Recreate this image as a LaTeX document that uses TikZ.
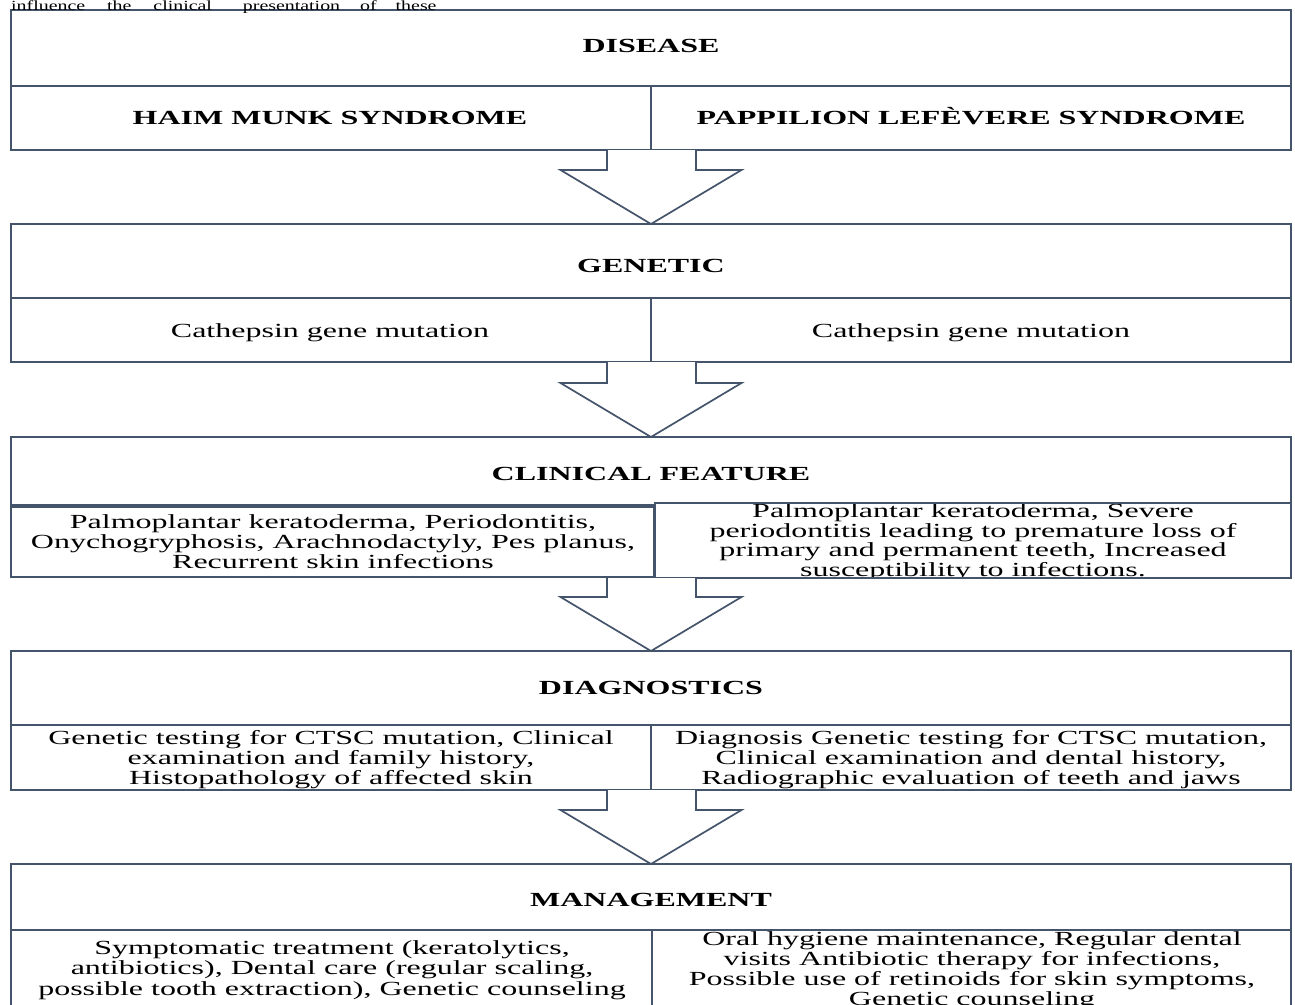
\documentclass[tikz,border=0pt]{standalone}
\usepackage{fontspec}
\setmainfont{Liberation Serif}
\newfontfamily\tnr[FakeStretch=1.6]{Liberation Serif}
\newfontfamily\topfont[FakeStretch=1.42]{Liberation Serif}
\usetikzlibrary{calc}
\definecolor{linec}{RGB}{68,84,106}
\tikzset{
  frame/.style={draw=linec, line width=1.7pt},
  hdr/.style={font={\tnr\bfseries\fontsize{20}{20}\selectfont}, inner sep=0pt, anchor=base, text=black},
  body/.style={font={\tnr\fontsize{20}{20}\selectfont}, inner sep=0pt, anchor=base, text=black},
  topword/.style={font={\topfont\fontsize{14}{14}\selectfont}, inner sep=0pt, anchor=base west, text=black},
  blockarrow/.style={draw=linec, line width=1.7pt, fill=white, line join=miter},
}
\newcommand\blockarr[2]{%
  \draw[blockarrow] ($(#1)+(-44.5,0)$) |- ($(#2)+(-90.5,-54)$) -- (#2)
    -- ($(#2)+(90.5,-54)$) -| ($(#1)+(44.5,0)$);}
\begin{document}
\begin{tikzpicture}[x=1pt,y=-1pt]
\clip (0,0) rectangle (1295,1004);
\fill[white] (0,0) rectangle (1295,1004);

% ---------- box 1: disease
\draw[frame, fill=white] (11,10) rectangle (1291,150);
\draw[frame] (11,86) -- (1291,86);
\draw[frame] (651,86) -- (651,150);
\node[hdr] (disease) at (651,52.5) {DISEASE};
\node[hdr] (hms) at (330,124) {HAIM MUNK SYNDROME};
\node[hdr] (pls) at (971,124) {PAPPILION LEFÈVERE SYNDROME};
\coordinate (b1s) at (651.5,150);

% page text at the very top, above the first box
\node[topword] (topline) at (11,10) {influence\hspace{22pt}the\hspace{22pt}clinical\hspace{31pt}presentation\hspace{20pt}of\hspace{19pt}these};

% ---------- box 2: genetic
\draw[frame] (11,224) rectangle (1291,362);
\draw[frame] (11,298) -- (1291,298);
\draw[frame] (651,298) -- (651,362);
\node[hdr] (genetic) at (651,272) {GENETIC};
\node[body] (gl) at (330,337) {Cathepsin gene mutation};
\node[body] (gr) at (971,337) {Cathepsin gene mutation};
\coordinate (b2n) at (651,224);
\coordinate (b2s) at (651.5,362);

% ---------- box 3: clinical feature
\draw[frame] (11,437) rectangle (1291,505);
\node[hdr] (clinical) at (651,480) {CLINICAL FEATURE};
\foreach \t [count=\i] in {{Palmoplantar keratoderma, Periodontitis,},
  {Onychogryphosis, Arachnodactyly, Pes planus,},
  {Recurrent skin infections}}
  \node[body] (cl\i) at (333,{528+20*(\i-1)}) {\t};
\draw[frame] (11,507) rectangle (654,577);
\begin{scope}
\clip (655,504) rectangle (1291,577.5);
\fill[white] (655,503) rectangle (1291,578);
\foreach \t [count=\i] in {{Palmoplantar keratoderma, Severe},
  {periodontitis leading to premature loss of},
  {primary and permanent teeth, Increased},
  {susceptibility to infections.}}
  \node[body] (cr\i) at (973,{517.5+19.7*(\i-1)}) {\t};
\end{scope}
\draw[frame] (655,503) rectangle (1291,578);
\coordinate (b3n) at (651,437);
\coordinate (b3s) at (651.5,578);

% ---------- box 4: diagnostics
\draw[frame] (11,651) rectangle (1291,790);
\draw[frame] (11,725) -- (1291,725);
\draw[frame] (651,725) -- (651,790);
\node[hdr] (diag) at (651,694) {DIAGNOSTICS};
\foreach \t [count=\i] in {{Genetic testing for CTSC mutation, Clinical},
  {examination and family history,},
  {Histopathology of affected skin}}
  \node[body] (dl\i) at (331,{744+20*(\i-1)}) {\t};
\foreach \t [count=\i] in {{Diagnosis Genetic testing for CTSC mutation,},
  {Clinical examination and dental history,},
  {Radiographic evaluation of teeth and jaws}}
  \node[body] (dr\i) at (971,{744+20*(\i-1)}) {\t};
\coordinate (b4n) at (651,651);
\coordinate (b4s) at (651.5,790);

% ---------- box 5: management
\node[hdr] (mgmt) at (651,906) {MANAGEMENT};
\foreach \t [count=\i] in {{Symptomatic treatment (keratolytics,},
  {antibiotics), Dental care (regular scaling,},
  {possible tooth extraction), Genetic counseling}}
  \node[body] (ml\i) at (332,{954+20.5*(\i-1)}) {\t};
\begin{scope}
\clip (653,931) rectangle (1291,1010);
\foreach \t [count=\i] in {{Oral hygiene maintenance, Regular dental},
  {visits Antibiotic therapy for infections,},
  {Possible use of retinoids for skin symptoms,},
  {Genetic counseling}}
  \node[body] (mr\i) at (972,{945+20*(\i-1)}) {\t};
\end{scope}
\draw[frame] (11,864) rectangle (1291,1020);
\draw[frame] (11,930) -- (1291,930);
\draw[frame] (652,930) -- (652,1020);
\coordinate (b5n) at (651,864);

% ---------- block arrows
\blockarr{b1s}{b2n}
\blockarr{b2s}{b3n}
\blockarr{b3s}{b4n}
\blockarr{b4s}{b5n}
\end{tikzpicture}
\end{document}
